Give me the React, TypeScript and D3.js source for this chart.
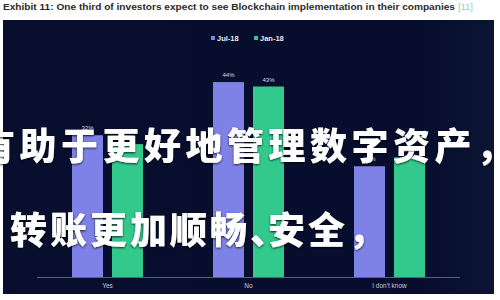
import React from "react";
import * as d3 from "d3";

const categories = ["Yes", "No", "I don't know"];
const seriesNames = ["Jul-18", "Jan-18"];
const jul18 = [32, 44, 25];
const jan18 = [30, 43, 27];
const titleText = "Exhibit 11: One third of investors expect to see Blockchain implementation in their companies";
const titleRef = "[11]";
const overlayLine1 = "有助于更好地管理数字资产，";
const overlayLine2 = "转账更加顺畅、安全，";

const W = 500;
const H = 300;
const colors: Record<string, string> = { "Jul-18": "#7e82e6", "Jan-18": "#33c98c" };

export default function App() {
  const x = d3.scaleBand<string>().domain(categories).range([37, 460]).paddingInner(0).paddingOuter(0);
  const inner = d3.scaleBand<string>().domain(seriesNames).range([35, 106]).paddingInner(0.225);
  const y = d3.scaleLinear().domain([0, 50]).range([277, 55.5]);
  const values: Record<string, number[]> = { "Jul-18": jul18, "Jan-18": jan18 };
  const ch1 = Array.from(overlayLine1);
  const ch2 = Array.from(overlayLine2);
  return (
    <svg width={W} height={H} style={{ position: "absolute", left: 0, top: 0, background: "#fff" }}>
      <defs>
        <linearGradient id="bg" x1="0" x2="1" y1="0" y2="0">
          <stop offset="0" stopColor="#080f2e" />
          <stop offset="0.85" stopColor="#070e2d" />
          <stop offset="1" stopColor="#0b1433" />
        </linearGradient>
        <filter id="sh" x="-10%" y="-10%" width="120%" height="130%">
          <feDropShadow dx="0" dy="1" stdDeviation="1.2" floodColor="#000" floodOpacity="0.8" />
        </filter>
      </defs>
      <text x={3} y={9.5} fontFamily="Liberation Sans, Arial, sans-serif" fontWeight="bold" fontSize={9.4} fill="#2a2a2a" textLength={452} lengthAdjust="spacingAndGlyphs">
        {titleText}
      </text>
      <text x={458} y={9.5} fontFamily="Liberation Sans, Arial, sans-serif" fontSize={9.4} fill="#8fcfc6">
        {titleRef}
      </text>
      <rect x={3} y={20} width={491} height={274} fill="url(#bg)" />
      {/* legend */}
      <rect x={211} y={36} width={4} height={4} fill={colors["Jul-18"]} />
      <text x={217} y={40.5} fontFamily="Liberation Sans, Arial, sans-serif" fontWeight="bold" fontSize={7.5} fill="#e8eaf2">Jul-18</text>
      <rect x={254} y={36} width={4} height={4} fill={colors["Jan-18"]} />
      <text x={260} y={40.5} fontFamily="Liberation Sans, Arial, sans-serif" fontWeight="bold" fontSize={7.5} fill="#e8eaf2">Jan-18</text>
      {/* bars */}
      {categories.map((c, i) => (
        <g key={c}>
          {seriesNames.map((s) => {
            const v = values[s][i];
            const bx = (x(c) as number) + (inner(s) as number);
            const bw = inner.bandwidth();
            return (
              <g key={s}>
                <rect x={bx} y={y(v)} width={bw} height={y(0) - y(v)} fill={colors[s]} />
                <text x={bx + bw / 2} y={y(v) - 5} textAnchor="middle" fontFamily="Liberation Sans, Arial, sans-serif" fontSize={6} fill="#d8dae6">
                  {v}%
                </text>
              </g>
            );
          })}
          <text x={(x(c) as number) + x.bandwidth() / 2} y={287.5} textAnchor="middle" fontFamily="Liberation Sans, Arial, sans-serif" fontSize={6.5} fill="#c8cad6">
            {c}
          </text>
        </g>
      ))}
      <line x1={37} x2={460} y1={277.5} y2={277.5} stroke="#5b6078" strokeWidth={1} />
      {/* overlay text */}
      <g filter="url(#sh)" fontFamily="Noto Sans CJK SC" fontWeight={900} fontSize={37} fill="#ffffff">
        {ch1.map((c, i) => (
          <text key={"a" + i} x={-22 + i * 41.5} y={160}>{c}</text>
        ))}
        {ch2.map((c, i) => (
          <text key={"b" + i} x={10 + (i < 7 ? i * 40 : i * 40 - 22)} y={244}>{c}</text>
        ))}
      </g>
    </svg>
  );
}
